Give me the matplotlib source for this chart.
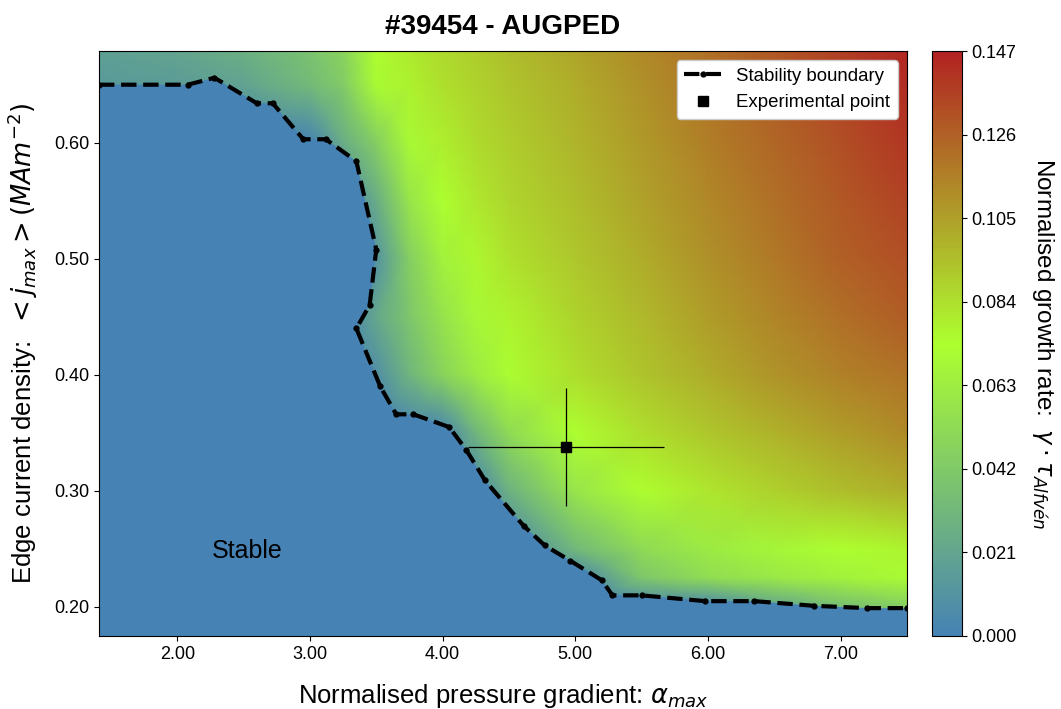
import numpy as np
import matplotlib
matplotlib.use("Agg")
import matplotlib.pyplot as plt
from matplotlib.colors import LinearSegmentedColormap

plt.rcParams['font.family'] = ['Liberation Sans', 'DejaVu Sans']

# growth-rate table (rows: j, columns: alpha)
alpha_nodes = [1.41, 2.0, 2.5, 3.0, 3.25, 3.5, 3.75, 4.0, 4.25, 4.5, 5.0, 5.5, 6.0, 6.5, 7.0, 7.5]
j_nodes = [0.175, 0.20, 0.225, 0.25, 0.30, 0.35, 0.40, 0.45, 0.50, 0.55, 0.60, 0.65, 0.68]
gamma_rows = [
    [0, 0, 0, 0, 0, 0, 0, 0, 0, 0, 0, 0, 0, 0, 0, 0],
    [0, 0, 0, 0, 0, 0, 0, 0, 0, 0, 0, 0, 0, 0.020, 0.035, 0.045],
    [0, 0, 0, 0, 0, 0, 0, 0, 0, 0, 0, 0.040, 0.053, 0.060, 0.066, 0.071],
    [0, 0, 0, 0, 0, 0, 0, 0, 0, 0, 0.032, 0.052, 0.062, 0.068, 0.073, 0.077],
    [0, 0, 0, 0, 0, 0, 0, 0, 0, 0.028, 0.058, 0.074, 0.082, 0.089, 0.095, 0.100],
    [0, 0, 0, 0, 0, 0, 0, 0, 0.030, 0.052, 0.073, 0.084, 0.092, 0.099, 0.106, 0.112],
    [0, 0, 0, 0, 0, 0.008, 0.030, 0.048, 0.062, 0.072, 0.084, 0.093, 0.101, 0.109, 0.115, 0.120],
    [0, 0, 0, 0, 0, 0.022, 0.040, 0.057, 0.069, 0.077, 0.088, 0.097, 0.106, 0.114, 0.121, 0.127],
    [0, 0, 0, 0, 0, 0.010, 0.045, 0.066, 0.076, 0.083, 0.092, 0.101, 0.110, 0.118, 0.126, 0.132],
    [0, 0, 0, 0, 0, 0.025, 0.058, 0.073, 0.081, 0.087, 0.095, 0.104, 0.113, 0.121, 0.129, 0.136],
    [0, 0, 0, 0, 0.025, 0.045, 0.070, 0.079, 0.085, 0.090, 0.098, 0.107, 0.116, 0.124, 0.132, 0.140],
    [0.014, 0.016, 0.020, 0.033, 0.043, 0.071, 0.078, 0.084, 0.088, 0.093, 0.101, 0.110, 0.119, 0.127, 0.135, 0.143],
    [0.018, 0.021, 0.027, 0.038, 0.048, 0.074, 0.080, 0.086, 0.090, 0.095, 0.103, 0.112, 0.121, 0.129, 0.137, 0.145],
]

# stability boundary
bound_alpha = [1.41, 2.08, 2.28, 2.60, 2.72, 2.95, 3.12, 3.35, 3.50, 3.45, 3.35, 3.53, 3.65, 3.78,
               4.05, 4.18, 4.32, 4.61, 4.77, 4.96, 5.20, 5.28, 5.50, 5.98, 6.35, 6.80, 7.20, 7.50]
bound_j = [0.650, 0.650, 0.656, 0.634, 0.634, 0.603, 0.603, 0.584, 0.508, 0.460, 0.440, 0.390, 0.366, 0.366,
           0.355, 0.335, 0.309, 0.270, 0.253, 0.240, 0.223, 0.210, 0.210, 0.205, 0.205, 0.201, 0.199, 0.199]

# experimental point
exp_alpha, exp_j = 4.93, 0.338
exp_alpha_err, exp_j_err = 0.74, 0.051

vmin, vmax = 0.0, 0.147
cmap = LinearSegmentedColormap.from_list('stab', ['steelblue', 'greenyellow', 'firebrick'])

fig = plt.figure(figsize=(10.61, 7.09), dpi=100)
ax = fig.add_axes([0.0933, 0.103, 0.7615, 0.825])
cax = fig.add_axes([0.878, 0.103, 0.0283, 0.825])

A, J = np.meshgrid(alpha_nodes, j_nodes)
mesh = ax.pcolormesh(A, J, np.array(gamma_rows), cmap=cmap, vmin=vmin, vmax=vmax,
                     shading='gouraud', zorder=1)

xmin, xmax = 1.41, 7.5
ymin, ymax = 0.175, 0.679
# stable region below the boundary
ax.fill(bound_alpha + [xmax, xmin], bound_j + [ymin, ymin], color=cmap(0.0), lw=0, zorder=2)

ax.plot(bound_alpha, bound_j, color='black', ls='--', lw=3, marker='.', ms=7,
        label='Stability boundary', zorder=3)
ax.errorbar(exp_alpha, exp_j, xerr=exp_alpha_err, yerr=exp_j_err, fmt='none',
            ecolor='black', elinewidth=0.9, zorder=4)
ax.plot(exp_alpha, exp_j, 's', color='black', ms=7, ls='none',
        label='Experimental point', zorder=5)

ax.text(2.26, 0.248, 'Stable', fontsize=18, va='center')

ax.set_xlim(xmin, xmax)
ax.set_ylim(ymin, ymax)
ax.set_xticks([2, 3, 4, 5, 6, 7])
ax.set_yticks([0.2, 0.3, 0.4, 0.5, 0.6])
ax.xaxis.set_major_formatter('{x:.2f}')
ax.yaxis.set_major_formatter('{x:.2f}')
ax.tick_params(labelsize=13)

ax.set_xlabel(r'Normalised pressure gradient: $\alpha_{max}$', fontsize=18.5, labelpad=14)
ax.set_ylabel(r'Edge current density:  $<j_{max}>(MAm^{-2})$', fontsize=18.5, labelpad=10)
ax.set_title('#39454 - AUGPED', fontsize=20, fontweight='bold', pad=12)

leg = ax.legend(loc='upper right', fontsize=13.4, framealpha=1.0)

cb = fig.colorbar(mesh, cax=cax)
cb.set_ticks(np.linspace(0, 0.147, 8))
cb.ax.yaxis.set_major_formatter('{x:.3f}')
cb.ax.tick_params(labelsize=13)
cb.set_label(r'Normalised growth rate:  $\gamma\cdot\tau_{Alfvén}$', rotation=270,
             fontsize=17.5, labelpad=28)

fig.savefig('out.png', dpi=100)
